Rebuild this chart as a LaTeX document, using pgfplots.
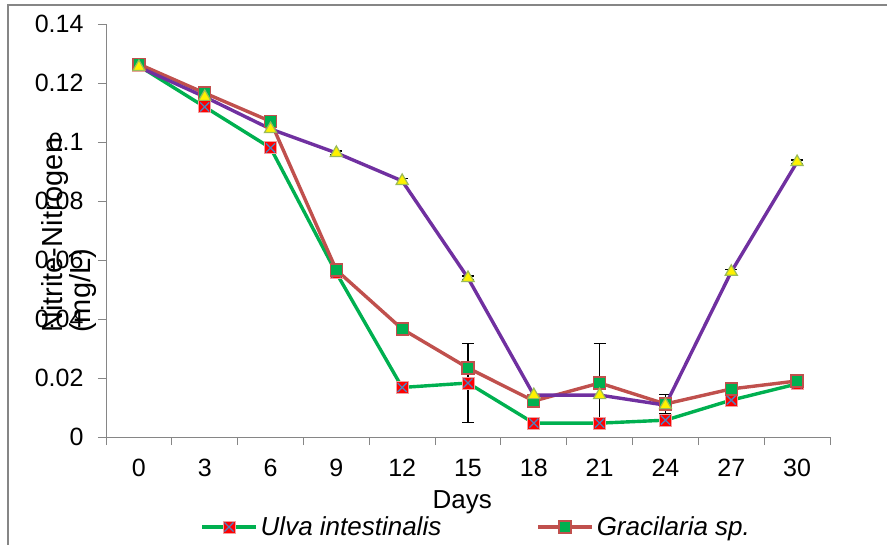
\documentclass[border=0pt]{standalone}
\usepackage{fontspec}
\setmainfont{Liberation Sans}
\usepackage{pgfplots}
\pgfplotsset{compat=1.18}
\definecolor{ulvag}{HTML}{00B050}
\definecolor{gracr}{HTML}{C0504D}
\definecolor{ctrlp}{HTML}{7030A0}
\definecolor{xblue}{HTML}{4F81BD}
\definecolor{edgepink}{HTML}{F2A0A0}
\definecolor{trigreen}{HTML}{9BBB59}
\definecolor{axgray}{HTML}{868686}

\pgfdeclareplotmark{sqx}{%
  \pgfpathrectangle{\pgfpoint{-\pgfplotmarksize}{-\pgfplotmarksize}}{\pgfpoint{2\pgfplotmarksize}{2\pgfplotmarksize}}%
  \pgfsetfillcolor{red}\pgfsetstrokecolor{edgepink}\pgfsetlinewidth{1pt}%
  \pgfusepath{fill,stroke}%
  \pgfsetstrokecolor{xblue}\pgfsetlinewidth{1.3pt}%
  \pgfpathmoveto{\pgfpoint{-0.75\pgfplotmarksize}{-0.75\pgfplotmarksize}}%
  \pgfpathlineto{\pgfpoint{0.75\pgfplotmarksize}{0.75\pgfplotmarksize}}%
  \pgfpathmoveto{\pgfpoint{-0.75\pgfplotmarksize}{0.75\pgfplotmarksize}}%
  \pgfpathlineto{\pgfpoint{0.75\pgfplotmarksize}{-0.75\pgfplotmarksize}}%
  \pgfusepath{stroke}%
}

\pgfplotstableread{
x y
0 0.1258
3 0.1119
6 0.0980
9 0.0556
12 0.0168
15 0.0183
18 0.0047
21 0.0047
24 0.0057
27 0.0125
30 0.0180
}\ulva

\pgfplotstableread{
x y
0 0.1264
3 0.1166
6 0.1070
9 0.0566
12 0.0366
15 0.0234
18 0.0122
21 0.0183
24 0.0112
27 0.0163
30 0.0190
}\gracilaria

\pgfplotstableread{
x y
0 0.1254
3 0.1153
6 0.1044
9 0.0963
12 0.0868
15 0.0539
18 0.0142
21 0.0142
24 0.0108
27 0.0560
30 0.0932
}\ctrl

\pgfplotstableread{
x y e
15 0.0183 0.0133
21 0.0183 0.0134
24 0.0112 0.0032
9 0.0963 0.0007
12 0.0868 0.0008
15 0.0539 0.0007
27 0.0560 0.0008
30 0.0932 0.0007
}\errs

\begin{document}
\begin{tikzpicture}
\useasboundingbox (0pt,0pt) rectangle (887pt,-544pt);
\draw[axgray, line width=1.2pt] (8pt,-600pt) -- (8pt,-5pt) -- (900pt,-5pt);
\begin{axis}[
  at={(106pt,-437pt)}, anchor=south west,
  width=724pt, height=413pt, scale only axis,
  xmin=-1.5, xmax=31.5, ymin=0, ymax=0.14,
  axis lines=left,
  axis line style={-, axgray, line width=1pt},
  xtick={0,3,...,30},
  minor xtick={-1.5,1.5,...,31.5},
  ytick={0,0.02,...,0.14},
  tick align=outside,
  major x tick style={draw=none},
  minor tick style={axgray, line width=1pt},
  major y tick style={axgray, line width=1pt},
  minor tick length=8pt, major tick length=8pt,
  scaled y ticks=false,
  /pgf/number format/assume math mode=true,
  tick label style={font=\fontsize{25}{28}\selectfont},
  xticklabel style={yshift=-11pt},
  yticklabel style={xshift=-11pt, /pgf/number format/fixed, /pgf/number format/precision=2},
  xlabel={Days},
  xlabel style={font=\fontsize{26}{29}\selectfont, at={(axis description cs:0.492,-0.157)}, anchor=center},
  ylabel={Nitrite-Nitrogen\\(mg/L)},
  ylabel style={font=\fontsize{29}{28}\selectfont, align=left, at={(axis description cs:-0.051,0.252)}, anchor=west, inner sep=0pt},
  legend style={at={(axis description cs:0.13,-0.218)}, anchor=west, draw=none, fill=none,
    inner sep=0pt, legend columns=2, font=\fontsize{26}{29}\selectfont\itshape,
    /tikz/every even column/.append style={column sep=92pt},
    nodes={inner sep=3pt}},
  legend cell align=left,
  legend image code/.code={\draw[mark repeat=2,mark phase=2] plot coordinates {(0pt,0pt) (27pt,0pt) (54pt,0pt)};},
  clip=false,
]
\addplot[draw=none, forget plot, error bars/.cd, y dir=both, y explicit,
  error bar style={black, line width=1.3pt},
  error mark options={rotate=90, black, mark size=6pt, line width=1.3pt}]
  table[x=x, y=y, y error=e] {\errs};
\addplot[ulvag, line width=3.4pt, mark=sqx, mark size=6pt] table[x=x,y=y] {\ulva};
\addlegendentry{Ulva intestinalis}
\addplot[gracr, line width=3.4pt, mark=square*, mark size=6pt,
  mark options={fill=ulvag, draw=gracr, line width=1.2pt}] table[x=x,y=y] {\gracilaria};
\addlegendentry{Gracilaria sp.}
\addplot[ctrlp, line width=3.4pt, mark=triangle*, mark size=7pt,
  mark options={fill=yellow, draw=trigreen, line width=1.2pt}, forget plot] table[x=x,y=y] {\ctrl};
\end{axis}
\end{tikzpicture}
\end{document}
